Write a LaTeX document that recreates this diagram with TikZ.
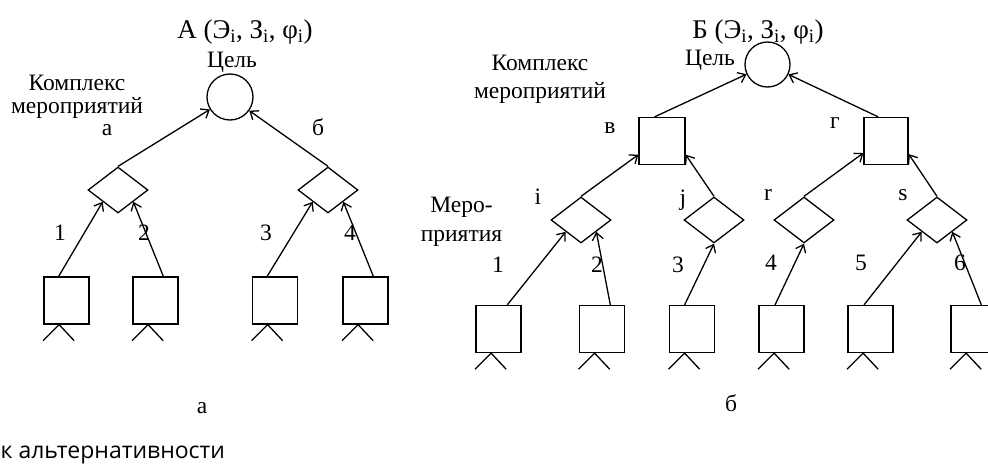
\documentclass[tikz,border=0pt]{standalone}
\usepackage{fontspec}
\setmainfont{Liberation Serif}
\newfontfamily\captfont{Open Sans}
\usetikzlibrary{shapes.geometric,arrows.meta}

\begin{document}
\begin{tikzpicture}[x=1pt, y=-1pt, >={Straight Barb[length=7pt,width=11pt]}, line width=1.3pt,
    goal/.style={draw, circle, minimum size=46pt, inner sep=0pt},
    rhomb/.style={draw, diamond, minimum width=60pt, minimum height=46pt, inner sep=0pt},
    box/.style={draw, rectangle, minimum width=45pt, minimum height=47pt, inner sep=0pt},
    lbl/.style={font=\fontsize{23.5}{25}\selectfont, inner sep=0pt},
    ttl/.style={font=\fontsize{27}{29}\selectfont, inner sep=0pt}]
    \useasboundingbox (0,0) rectangle (988,466);

    % Схема а
    \node[ttl] (titleA) at (245,32) {А (Э\textsubscript{i}, З\textsubscript{i}, φ\textsubscript{i})};
    \node[lbl] (goalA-t) at (232,62) {Цель};
    \node[goal] (goalA) at (230,97) {};
    \node[lbl, align=center, font=\fontsize{23.5}{23}\selectfont] (kmA) at (77,97) {Комплекс\\мероприятий};

    \node[rhomb] (da) at (118,190) {};
    \node[rhomb] (db) at (328,190) {};
    \node[lbl] (la) at (107,130) {а};
    \node[lbl] (lb) at (318,127) {б};
    \draw[->] (da.north) -- (goalA);
    \draw[->] (db.north) -- (goalA);

    \node[box] (a1) at (66.5,300.5) {};
    \node[box] (a2) at (155.5,300.5) {};
    \node[box] (a3) at (275,300.5) {};
    \node[box] (a4) at (365.5,300.5) {};
    \node[lbl] (na1) at (60,233) {1};
    \node[lbl] (na2) at (144,233) {2};
    \node[lbl] (na3) at (266,233) {3};
    \node[lbl] (na4) at (350,233) {4};
    \draw[->] (a1.108) -- (da.south west);
    \draw[->] (a2.72) -- (da.south east);
    \draw[->] (a3.108) -- (db.south west);
    \draw[->] (a4.72) -- (db.south east);
    \node[lbl] (capA) at (202,408) {а};

    % Схема б
    \node[ttl] (titleB) at (758,32) {Б (Э\textsubscript{i}, З\textsubscript{i}, φ\textsubscript{i})};
    \node[lbl] (goalB-t) at (710,60) {Цель};
    \node[goal, minimum size=45pt] (goalB) at (767.5,64.5) {};
    \node[lbl, align=center, font=\fontsize{23.5}{28}\selectfont] (kmB) at (540,79) {Комплекс\\мероприятий};

    \node[box, minimum width=46pt] (bv) at (662,141) {};
    \node[box, minimum width=44pt] (bg) at (886,141) {};
    \node[lbl] (lv) at (610,128) {в};
    \node[lbl] (lg) at (835,123) {г};
    \draw[->] (bv.107) -- (goalB);
    \draw[->] (bg.108) -- (goalB);

    \node[rhomb] (di) at (581,220) {};
    \node[rhomb] (dj) at (714,220) {};
    \node[rhomb] (dr) at (804,220) {};
    \node[rhomb] (ds) at (937,220) {};
    \node[lbl] (li) at (538,197) {i};
    \node[lbl] (lj) at (683,200) {j};
    \node[lbl] (lr) at (768,195) {r};
    \node[lbl] (ls) at (903,195) {s};
    \draw[->] (di.north) -- (bv.210);
    \draw[->] (dj.north) -- (bv.330);
    \draw[->] (dr.north) -- (bg.208);
    \draw[->] (ds.north) -- (bg.330);

    \node[lbl, align=center, font=\fontsize{23.5}{29}\selectfont] (mr) at (461.5,222) {Меро-\\приятия};

    \node[box] (b1) at (498.5,329) {};
    \node[box] (b2) at (602,329) {};
    \node[box] (b3) at (692,329) {};
    \node[box] (b4) at (781.5,329) {};
    \node[box] (b5) at (870.5,329) {};
    \node[box] (b6) at (973.5,329) {};
    \node[lbl] (nb1) at (498,265) {1};
    \node[lbl] (nb2) at (597,265) {2};
    \node[lbl] (nb3) at (678,265) {3};
    \node[lbl] (nb4) at (771,263) {4};
    \node[lbl] (nb5) at (861,263) {5};
    \node[lbl] (nb6) at (960,263) {6};
    \draw[->] (b1.70) -- (di.south west);
    \draw[->] (b2.71) -- (di.south east);
    \draw[->] (b3.107) -- (dj.south);
    \draw[->] (b4.105) -- (dr.south);
    \draw[->] (b5.105) -- (ds.south west);
    \draw[->] (b6.72) -- (ds.south east);
    \node[lbl] (capB) at (731,403) {б};

    % ножки под прямоугольниками
    \foreach \b in {a1,a2,a3,a4,b1,b2,b3,b4,b5,b6}
        \draw (\b.253) -- ++(-16,16) (\b.253) -- ++(15,16);

    \node[font=\captfont\fontsize{23}{25}\selectfont, anchor=west, inner sep=0pt] (alt) at (0,455) {к альтернативности};
\end{tikzpicture}
\end{document}
